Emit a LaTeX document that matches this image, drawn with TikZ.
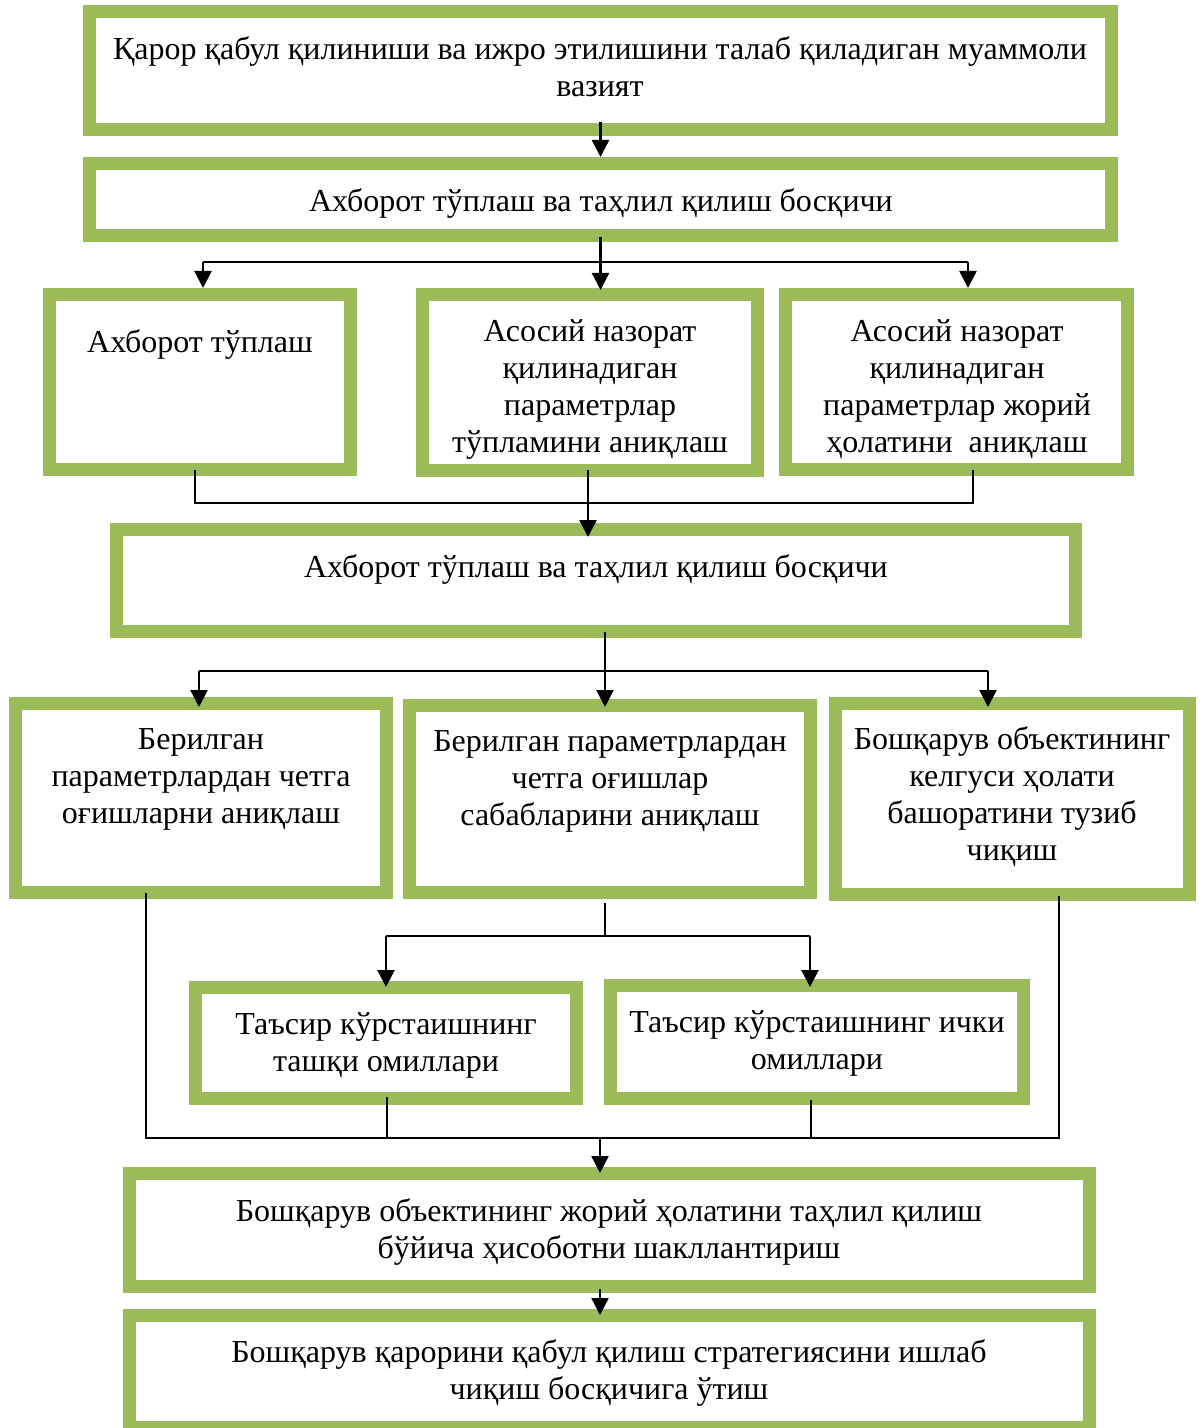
\documentclass[tikz,border=0pt]{standalone}
\usepackage{fontspec}
\setmainfont{Liberation Serif}
\usetikzlibrary{calc,arrows.meta}
\definecolor{grn}{HTML}{9BBB59}
\tikzset{
  box/.style={draw=grn, line width=6.5pt, fill=white, inner sep=0pt},
  txt/.style={align=center, inner sep=0pt, font=\fontsize{16pt}{18.5pt}\selectfont},
  ln/.style={draw=black, line width=0.6pt},
  arr/.style={draw=black, line width=1.2pt, -{Triangle[width=8.5pt,length=8.5pt]}}
}
\newcommand\mybox[5]{\node[box, minimum width={(#4-#2-13)*0.5pt}, minimum height={(#5-#3-13)*0.5pt}] (#1) at ({(#2+#4)/2},{(#3+#5)/2}) {};}
\begin{document}
\begin{tikzpicture}[x=0.5pt,y=-0.5pt]
\useasboundingbox (0,0) rectangle (1202,1428);
% boxes
\mybox{b1}{83}{5}{1118}{136}
\mybox{b2}{83}{157}{1118}{242}
\mybox{b3a}{43}{288}{357}{476}
\mybox{b3b}{416}{288}{764}{477}
\mybox{b3c}{779}{288}{1134}{476}
\mybox{b4}{110}{523}{1082}{638}
\mybox{b5a}{9}{697}{393}{899}
\mybox{b5b}{403}{699}{817}{899}
\mybox{b5c}{829}{697}{1196}{901}
\mybox{b6a}{189}{981}{583}{1105}
\mybox{b6b}{604}{979}{1030}{1105}
\mybox{b7}{123}{1167}{1096}{1293}
\mybox{b8}{123}{1309}{1096}{1434}
% texts
\node[txt] (t1) at (600,67) {Қарор қабул қилиниши ва ижро этилишини талаб қиладиган муаммоли\\вазият};
\node[txt] (t2) at (601,204) {Ахборот тўплаш ва таҳлил қилиш босқичи};
\node[txt] (t3a) at (200,344) {Ахборот тўплаш};
\node[txt] (t3b) at (590,389) {Асосий назорат\\қилинадиган\\параметрлар\\тўпламини аниқлаш};
\node[txt] (t3c) at (957,389) {Асосий назорат\\қилинадиган\\параметрлар жорий\\ҳолатини\ \ аниқлаш};
\node[txt] (t4) at (596,569) {Ахборот тўплаш ва таҳлил қилиш босқичи};
\node[txt] (t5a) at (201,779) {Берилган\\параметрлардан четга\\оғишларни аниқлаш};
\node[txt] (t5b) at (610,781) {Берилган параметрлардан\\четга оғишлар\\сабабларини аниқлаш};
\node[txt] (t5c) at (1012,797) {Бошқарув объектининг\\келгуси ҳолати\\башоратини тузиб\\чиқиш};
\node[txt] (t6a) at (386,1045) {Таъсир кўрстаишнинг\\ташқи омиллари};
\node[txt] (t6b) at (817,1043) {Таъсир кўрстаишнинг ички\\омиллари};
\node[txt] (t7) at (609,1232) {Бошқарув объектининг жорий ҳолатини таҳлил қилиш\\бўйича ҳисоботни шакллантириш};
\node[txt] (t8) at (609,1373) {Бошқарув қарорини қабул қилиш стратегиясини ишлаб\\чиқиш босқичига ўтиш};
% b1 -> b2
\draw[arr] ($(b1.south)+(0,-14)$) -- (b2.north);
% b2 -> row 3
\coordinate (s2) at ($(b2.south)+(0,-5)$);
\coordinate (h1) at ($(b2.south)+(0,20)$);
\coordinate (a3a) at ($(b3a.north)+(3,0)$);
\coordinate (a3c) at ($(b3c.north)+(11.5,0)$);
\draw[arr] (s2) -- ($(s2 |- b3b.north)+(0,2)$);
\draw[ln] (h1 -| a3a) -- (h1 -| a3c);
\draw[arr] (h1 -| a3a) -- (a3a);
\draw[arr] (h1 -| a3c) -- (a3c);
% row 3 -> b4
\coordinate (h2) at ($(b4.north)+(0,-20)$);
\coordinate (p3a) at ($(b3a.south)+(-5,-6)$);
\coordinate (p3c) at ($(b3c.south)+(16.5,-6)$);
\coordinate (s3b) at ($(b3b.south)+(-2,-7)$);
\draw[ln] (p3a) -- (p3a |- h2) -- (h2 -| p3c) -- (p3c);
\draw[arr] (s3b) -- ($(s3b |- b4.north)+(0,14)$);
% b4 -> row 5
\coordinate (s4) at ($(b4.south)+(9,-6)$);
\coordinate (h3) at ($(b4.south)+(0,33)$);
\coordinate (a5a) at ($(b5a.north)+(-2,10)$);
\coordinate (a5c) at ($(b5c.north)+(-24.5,10)$);
\draw[arr] (s4) -- ($(s4 |- b5b.north)+(0,8)$);
\draw[ln] (h3 -| a5a) -- (h3 -| a5c);
\draw[arr] (h3 -| a5a) -- (a5a);
\draw[arr] (h3 -| a5c) -- (a5c);
% b5b -> row 6
\coordinate (s5) at ($(b5b.south)+(-5,4)$);
\coordinate (h4) at ($(s5)+(0,33)$);
\coordinate (a6a) at ($(b6a.north)+(0,6)$);
\coordinate (a6b) at ($(b6b.north)+(-7,8)$);
\draw[ln] (s5) -- (h4);
\draw[ln] (h4 -| a6a) -- (h4 -| a6b);
\draw[arr] (h4 -| a6a) -- (a6a);
\draw[arr] (h4 -| a6b) -- (a6b);
% merge -> b7
\coordinate (h5) at ($(b7.north)+(0,-29)$);
\coordinate (p5a) at ($(b5a.south)+(-55,-6)$);
\coordinate (p5c) at ($(b5c.south)+(46.5,-5)$);
\coordinate (p6a) at ($(b6a.south)+(1,-8)$);
\coordinate (p6b) at ($(b6b.south)+(-6,-5)$);
\draw[ln] (p5a) -- (p5a |- h5) -- (h5 -| p5c) -- (p5c);
\draw[ln] (p6a) -- (p6a |- h5);
\draw[ln] (p6b) -- (p6b |- h5);
\draw[arr] ($(h5 -| b7.north)+(-9.5,0)$) -- ($(b7.north)+(-9.5,6)$);
% b7 -> b8
\draw[arr] ($(b7.south)+(-9.5,-4)$) -- ($(b8.north)+(-9.5,6)$);
\end{tikzpicture}
\end{document}
